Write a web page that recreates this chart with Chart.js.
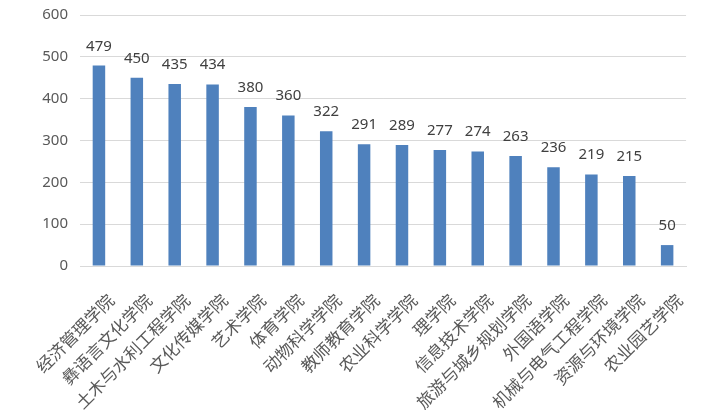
<!DOCTYPE html>
<html>
<head>
<meta charset="utf-8">
<script src="https://cdn.jsdelivr.net/npm/chart.js@4/dist/chart.umd.min.js"></script>
<style>
  html, body { margin: 0; padding: 0; background: #fff; }
  #wrap { width: 706px; height: 414px; }
</style>
</head>
<body>
<div id="wrap"><canvas id="myChart"></canvas></div>
<script>
    let xValues = ["经济管理学院", "彝语言文化学院", "土木与水利工程学院", "文化传媒学院", "艺术学院", "体育学院",
      "动物科学学院", "教师教育学院", "农业科学学院", "理学院", "信息技术学院", "旅游与城乡规划学院",
      "外国语学院", "机械与电气工程学院", "资源与环境学院", "农业园艺学院"];
    let yValues = [479, 450, 435, 434, 380, 360, 322, 291, 289, 277, 274, 263, 236, 219, 215, 50];
    let yTicks = [0, 100, 200, 300, 400, 500, 600];

    // value labels above each bar
    let barLabels = {
      id: "barLabels",
      afterDatasetsDraw(chart) {
        let ctx = chart.ctx;
        let meta = chart.getDatasetMeta(0);
        ctx.save();
        ctx.font = "15px 'Noto Sans'";
        ctx.fillStyle = "#404040";
        ctx.textAlign = "center";
        ctx.textBaseline = "alphabetic";
        meta.data.forEach((bar, i) => {
          ctx.fillText(yValues[i], bar.x, bar.y - 15);
        });
        ctx.restore();
      }
    };

    new Chart("myChart", {
      type: "bar",
      data: {
        labels: xValues,
        datasets: [{
          backgroundColor: "#4f81bd",
          data: yValues,
          barPercentage: 0.33,
          categoryPercentage: 1
        }]
      },
      plugins: [barLabels],
      options: {
        responsive: true,
        maintainAspectRatio: false,
        animation: false,
        layout: { padding: { top: 15, right: 14, left: 0, bottom: 0 } },
        plugins: {
          legend: { display: false },
          tooltip: { enabled: false }
        },
        scales: {
          x: {
            grid: { display: false, drawTicks: false },
            border: { color: "#d9d9d9" },
            ticks: {
              color: "#595959",
              font: { family: "'Noto Sans CJK SC'", size: 17 },
              maxRotation: 45,
              minRotation: 45,
              autoSkip: false,
              padding: 24,
              labelOffset: 12
            },
            afterFit(scale) { scale.height = 148; }
          },
          y: {
            min: 0,
            max: 600,
            afterBuildTicks(scale) { scale.ticks = yTicks.map(v => ({ value: v })); },
            grid: { color: "#d9d9d9", drawTicks: false },
            border: { display: false },
            ticks: {
              color: "#595959",
              font: { family: "'Noto Sans'", size: 15 },
              padding: 12
            },
            afterFit(scale) { scale.width = 80; scale.paddingTop = 0; }
          }
        }
      }
    });
</script>
</body>
</html>
